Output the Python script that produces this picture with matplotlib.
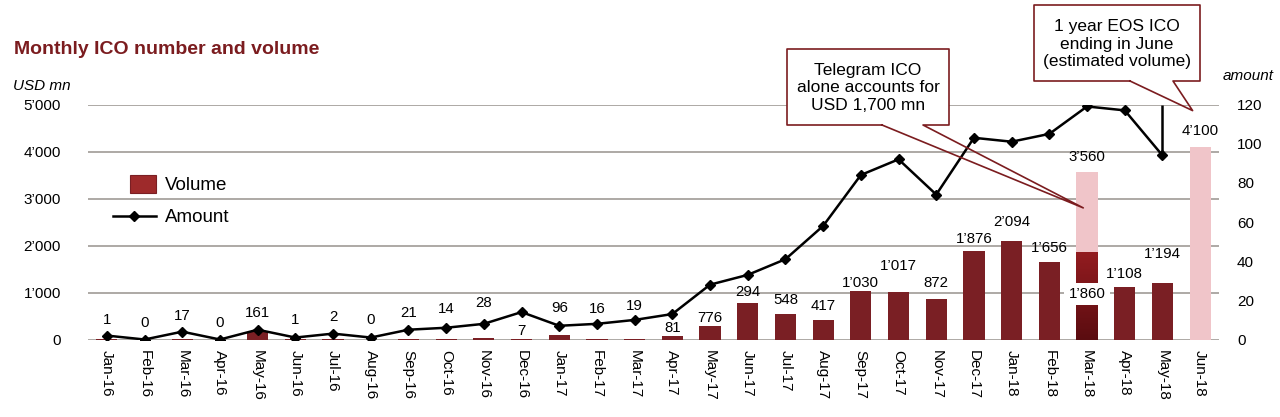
"""Monthly ICO number and volume: bars (USD mn) + amount line on a twin axis."""

import numpy as np
import matplotlib
matplotlib.use("Agg")
import matplotlib.pyplot as plt
from matplotlib.patches import Rectangle
from matplotlib.lines import Line2D
from matplotlib.colors import LinearSegmentedColormap

plt.rcParams['font.family'] = ['Liberation Sans', 'DejaVu Sans']

MONTHS = ['Jan-16', 'Feb-16', 'Mar-16', 'Apr-16', 'May-16', 'Jun-16', 'Jul-16', 'Aug-16',
          'Sep-16', 'Oct-16', 'Nov-16', 'Dec-16', 'Jan-17', 'Feb-17', 'Mar-17', 'Apr-17',
          'May-17', 'Jun-17', 'Jul-17', 'Aug-17', 'Sep-17', 'Oct-17', 'Nov-17', 'Dec-17',
          'Jan-18', 'Feb-18', 'Mar-18', 'Apr-18', 'May-18', 'Jun-18']
VOLUME = [1, 0, 17, 0, 161, 1, 2, 0, 21, 14, 28, 7, 96, 16, 19, 81,
          294, 776, 548, 417, 1030, 1017, 872, 1876, 2094, 1656, 1860, 1108, 1194, 0]
VOLUME_LABELS = ['1', '0', '17', '0', '161', '1', '2', '0', '21', '14', '28', '7', '96', '16',
                 '19', '81', '776', '294', '548', '417', '1’030', '1’017', '872', '1’876',
                 '2’094', '1’656', '1’860', '1’108', '1’194', '']
AMOUNT = [2, 0, 4, 0, 5, 1, 3, 1, 5, 6, 8, 14, 7, 8, 10, 13,
          28, 33, 41, 58, 84, 92, 74, 103, 101, 105, 119, 117, 94, np.nan]
EST_MONTHS = ['Mar-18', 'Jun-18']
EST_VOLUME = [3560, 4100]
EST_LABELS = ['3’560', '4’100']
LEFT_TICKS = [0, 1000, 2000, 3000, 4000, 5000]
LEFT_TICK_LABELS = ['0', '1’000', '2’000', '3’000', '4’000', '5’000']
RIGHT_TICKS = [0, 20, 40, 60, 80, 100, 120]

# where each value label sits (left-axis units) -- layout, not data
LABEL_Y = [415, 345, 506, 345, 564, 415, 472, 415, 557, 642, 770, 187, 664, 642, 713, 245,
           464, 1017, 840, 713, 1209, 1570, 1209, 2138, 2506, 1947, 965, 1387, 1813, 0]
EST_LABEL_Y = [3889, 4436]

MAROON = '#7a1f24'
PINK = '#f0c5c9'
DARKRED = '#7b1c1f'
GRID = '#a7a29e'

W, H = 1280, 417


def fr(px, py):
    """pixel (from top-left) -> figure fraction"""
    return (px / W, 1 - py / H)


fig = plt.figure(figsize=(W / 100, H / 100), dpi=100)
ax = fig.add_axes([88 / W, 1 - 339.5 / H, 1131 / W, 235 / H])

x = np.arange(len(MONTHS))
est_x = [MONTHS.index(m) for m in EST_MONTHS]
ax.bar(est_x, EST_VOLUME, width=0.56, color=PINK, zorder=1.5)
bars = ax.bar(x, VOLUME, width=0.56, color=MAROON, zorder=2)

# Mar-18 bar is shaded (darker at the bottom)
i_mar = MONTHS.index('Mar-18')
p = bars[i_mar]
grad = np.linspace(0, 1, 256).reshape(-1, 1)
im = ax.imshow(grad, extent=[p.get_x(), p.get_x() + p.get_width(), 0, p.get_height()],
               cmap=LinearSegmentedColormap.from_list('g', ['#5a0c10', '#931c20']),
               origin='lower', aspect='auto', zorder=2.1)
im.set_clip_path(p)

ax.set_xlim(-0.5, len(MONTHS) - 0.5)
ax.set_ylim(0, 5000)
ax.set_yticks(LEFT_TICKS)
ax.set_yticklabels(LEFT_TICK_LABELS)
ax.set_xticks(x)
ax.set_xticklabels(MONTHS, rotation=-90)
ax.tick_params(axis='y', length=0, pad=19.5, labelsize=11)
ax.tick_params(axis='x', length=0, pad=7.5, labelsize=11)
ax.yaxis.grid(True, color=GRID, lw=1.3, zorder=0)
ax.set_axisbelow(True)
for s in ax.spines.values():
    s.set_visible(False)

for i, (lab, ly) in enumerate(zip(VOLUME_LABELS, LABEL_Y)):
    if not lab:
        continue
    if i == i_mar:
        ax.text(i, ly, lab, ha='center', va='center', fontsize=10.8, zorder=4,
                bbox=dict(fc='white', ec='none', pad=3))
    else:
        ax.text(i, ly, lab, ha='center', va='center', fontsize=10.8, zorder=4)
for xi, lab, ly in zip(est_x, EST_LABELS, EST_LABEL_Y):
    ax.text(xi, ly, lab, ha='center', va='center', fontsize=10.8, zorder=4)

ax2 = ax.twinx()
ax2.set_ylim(0, 120)
ax2.set_yticks(RIGHT_TICKS)
ax2.tick_params(axis='y', length=0, pad=13, labelsize=11)
for s in ax2.spines.values():
    s.set_visible(False)
ax2.plot(x, AMOUNT, color='black', lw=1.8, marker='D', ms=5, zorder=3)
i_may = MONTHS.index('May-18')
ax2.vlines(i_may, AMOUNT[i_may], 120, color='black', lw=1.8)

# titles / axis captions
fig.text(*fr(14, 50), 'Monthly ICO number and volume', fontsize=14, fontweight='bold',
         color=DARKRED, ha='left', va='center')
fig.text(*fr(13, 86), 'USD mn', fontsize=11, style='italic', ha='left', va='center')
fig.text(*fr(1274, 76), 'amount', fontsize=11, style='italic', ha='right', va='center')

# legend
fig.add_artist(Rectangle(fr(130, 193), 26 / W, 18 / H, fc='#9e2a2b', ec='#7a1f24', lw=0.8))
fig.text(*fr(165, 186), 'Volume', fontsize=13.5, ha='left', va='center')
lx, ly = zip(fr(113, 216), fr(156, 216))
fig.add_artist(Line2D(lx, ly, color='black', lw=1.8))
fig.add_artist(Line2D([fr(134, 216)[0]], [fr(134, 216)[1]], color='black', marker='D', ms=5))
fig.text(*fr(165, 217), 'Amount', fontsize=13.5, ha='left', va='center')


def callout(box, base, tip, text):
    l, t, r, b = box
    fig.add_artist(Rectangle(fr(l, b), (r - l) / W, (b - t) / H, fc='white', ec='none', zorder=5))
    tx, ty = fig.transFigure.inverted().transform(ax.transData.transform(tip))
    pts = [fr(base[0], b), fr(l, b), fr(l, t), fr(r, t), fr(r, b), fr(base[1], b), (tx, ty),
           fr(base[0], b)]
    xs, ys = zip(*pts)
    fig.add_artist(Line2D(xs, ys, color=DARKRED, lw=1.2, zorder=6))
    fig.text(*fr((l + r) / 2, (t + b) / 2 + 1), text, fontsize=12.5, ha='center', va='center',
             linespacing=1.2, zorder=7)


callout((787, 49, 949, 125), (882, 923), (25.9, 2800),
        'Telegram ICO\nalone accounts for\nUSD 1,700 mn')
callout((1034, 5, 1200, 81), (1130, 1173), (28.8, 4870),
        '1 year EOS ICO\nending in June\n(estimated volume)')

fig.savefig('out.png', dpi=100)
